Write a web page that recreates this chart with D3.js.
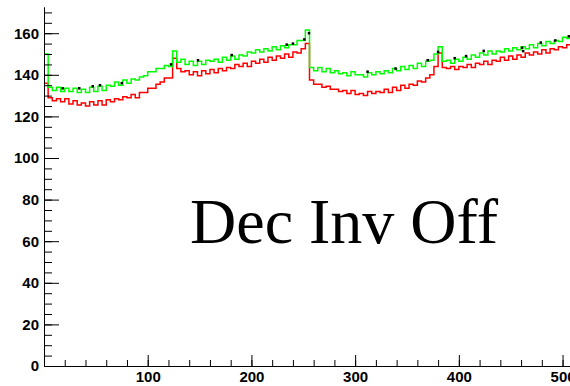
<!DOCTYPE html>
<meta charset="utf-8">
<html>
<head>
<style>
  body { margin: 0; background: #fff; }
  .axis text { font-family: "Liberation Sans", Arial, sans-serif; font-weight: bold; font-size: 15px; fill: #000; }
  .axis line, .axis path { stroke: #000; }
</style>
</head>
<body>
<svg width="570" height="386" id="chart"></svg>
<script src="https://cdnjs.cloudflare.com/ajax/libs/d3/7.8.5/d3.min.js"></script>
<script>
// histogram: 128 bins of width 4 over 0..512
var binWidth = 4;
var green = [150,134,132.5,134,132,133.5,132,133.5,131.5,133,131.5,134,132,134.5,132.5,135,
  134.5,136.5,135,137.5,136,138,137.5,139,139.5,141.5,141.5,143,143,144.5,144,151.5,
  146,147.5,145,146.5,144.5,146.5,145,147,146.5,147.5,146,148.5,147,149,147.5,149.5,
  149,151,150.5,152,151,152.5,151.5,153.5,152,154,153,154.5,154.5,156.5,156.5,161.5,
  143.5,142,143.5,141.5,143,141,142,140.5,141,139.5,141.5,140,140,139,141,140,
  141.5,140.5,142,141,143,142,144,142.5,144.5,143,145.5,144,146.5,147,150,153.5,
  146.5,147,145.5,147.5,146.5,148.5,147.5,149.5,148.5,150.5,149.5,151.5,150,151.5,151,152.5,
  151.5,153,152,153.5,152.5,154.5,153,155,154,156,155,156.5,156,158,157.5,159.5];
var red = [136,129,127.5,128.5,127,128.5,126,127.5,125.5,126.5,125,127,125.5,127.5,125.5,128,
  127,128.5,128,129.5,129,130.5,129,131.5,131.5,133.5,133.5,135.5,136.5,138.5,138.5,148,
  143,141.5,142,140,141.5,139.5,142,140.5,142.5,141,143,142,143.5,143,145,144,
  145.5,144,146.5,145.5,147.5,146,148.5,147,149,148,150,148.5,151,150.5,152.5,155,
  137.5,135.5,135.5,134,134.5,133,133,132,132.5,131,132.5,130.5,131,130,132,131,
  132,131.5,133,131.5,134,132.5,135,133.5,135.5,135,137,136.5,138.5,140,144,150.5,
  143.5,143,144,142.5,144,143.5,145,143.5,145.5,145,146.5,145,147,146.5,148.5,147,
  149,147.5,149.5,148.5,150.5,149.5,151,150,152,150.5,152.5,152,153.5,153,154.5,154];
// black points of the reference histogram poking out of the green
var markX = [18,34,47,54,75,122.5,148.5,181,234,240,251,255.5,312,339,370,380,396,407,424,461,462,479,493,506];
var markY = [133.5,133.5,134.5,135,136,145,147,149.5,154.5,155,157,160,141.5,143,147,151,148,149,151.5,153,151.4,155.5,156.5,158.5];
var yMajor = [0,20,40,60,80,100,120,140,160];
var xMajor = [100,200,300,400,500];

var svg = d3.select("#chart");
var x = d3.scaleLinear().domain([0, 512]).range([44, 575]);
var y = d3.scaleLinear().domain([0, 172.6]).range([366, 7]);

function steps(vals) {
  var pts = vals.map(function (v, i) { return [i * binWidth, v]; });
  pts.push([vals.length * binWidth, vals[vals.length - 1]]);
  return pts;
}
var line = d3.line()
  .x(function (d) { return x(d[0]); })
  .y(function (d) { return y(d[1]); })
  .curve(d3.curveStepAfter);

svg.append("path").datum(steps(red))
  .attr("fill", "none").attr("stroke", "#ff0000").attr("stroke-width", 1.5)
  .attr("d", line);
svg.append("path").datum(steps(green))
  .attr("fill", "none").attr("stroke", "#00ff00").attr("stroke-width", 1.5)
  .attr("d", line);
svg.selectAll(".mark").data(markX).enter().append("rect")
  .attr("class", "mark")
  .attr("x", function (d) { return x(d) - 1.25; })
  .attr("y", function (d, i) { return y(markY[i]) - 1.25; })
  .attr("width", 2.5).attr("height", 2.5)
  .attr("fill", "#000");

// minor ticks
var yMinor = d3.range(0, 171, 5), xMinor = d3.range(0, 512, 20);
svg.append("g").attr("class", "axis")
  .attr("transform", "translate(44,0)")
  .call(d3.axisLeft(y).tickValues(yMinor).tickSize(-8).tickSizeOuter(0).tickFormat(""));
svg.append("g").attr("class", "axis")
  .attr("transform", "translate(0,366)")
  .call(d3.axisBottom(x).tickValues(xMinor).tickSize(-6).tickSizeOuter(0).tickFormat(""));
// major ticks + labels
svg.append("g").attr("class", "axis")
  .attr("transform", "translate(44,0)")
  .call(d3.axisLeft(y).tickValues(yMajor).tickSize(-15).tickSizeOuter(0).tickPadding(5));
svg.append("g").attr("class", "axis")
  .attr("transform", "translate(0,366)")
  .call(d3.axisBottom(x).tickValues(xMajor).tickSize(-11).tickSizeOuter(0).tickPadding(5.5));

svg.append("text")
  .attr("x", 190).attr("y", 243)
  .attr("font-family", "'Liberation Serif', 'Times New Roman', serif")
  .attr("font-size", 64)
  .text("Dec Inv Off");
</script>
</body>
</html>
